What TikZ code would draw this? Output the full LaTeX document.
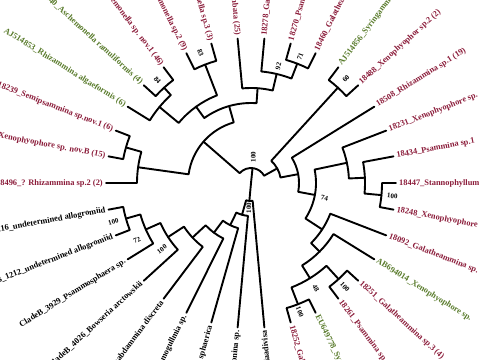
\documentclass[tikz,border=0pt]{standalone}
\usepackage{fontspec}
\setmainfont{Liberation Serif}
\usetikzlibrary{calc}
\definecolor{mar}{RGB}{139,28,58}
\definecolor{grn}{RGB}{88,122,42}
\newcommand\trBr[5]{\draw[br] ($(C)+(#2:#3pt)$) -- ($(C)+(#2:#1pt)$) arc[start angle=#2, end angle=#4, radius=#1pt] -- ($(C)+(#4:#5pt)$);}
\newcommand\trLR[4]{\node[lab, text=#3, anchor=west, rotate=#2] (#1) at ($(C)+(#2:147pt)$) {#4};}
\newcommand\trLL[4]{\node[lab, text=#3, anchor=east, rotate=#2+180] (#1) at ($(C)+(#2:147pt)$) {#4};}
\newcommand\trBS[5]{\node[bs, rotate=#4] (#1) at ($(C)+(#2:#3pt)$) {#5};}
\begin{document}
\begin{tikzpicture}[x=1pt,y=1pt,
  br/.style={line width=1.9pt, line join=round, line cap=round},
  lab/.style={font=\bfseries\fontsize{8.4}{9}\selectfont, inner sep=1pt},
  bs/.style={font=\bfseries\fontsize{7}{8}\selectfont, inner sep=0pt}]
\useasboundingbox (0,0) rectangle (479,-359);
\coordinate (C) at (251,-183);
% ---------- leaves ----------
\trLL{l0}{180}{mar}{18496\_? Rhizammina sp.2 (2)}
\trLL{l1}{169.41}{mar}{18233\_Xenophyophore sp. nov.B (15)}
\trLL{l2}{158.82}{mar}{18239\_Semipsammina sp.nov.1 (6)}
\trLL{l3}{148.24}{grn}{AJ514853\_Rhizammina algaeformis (6)}
\trLL{l4}{137.65}{grn}{AJ514840\_Aschemonella ramuliformis (4)}
\trLL{l5}{127.06}{mar}{18274\_Aschemonella sp. nov.1 (46)}
\trLL{l6}{116.47}{mar}{18266\_Aschemonella sp.2 (9)}
\trLL{l7}{105.88}{mar}{18263\_Aschemonella sp.3 (3)}
\trLL{l8}{95.29}{mar}{18241\_Psammina limbata (25)}
\trLR{l9}{84.71}{mar}{18278\_Galatheammina sp.}
\trLR{l10}{74.12}{mar}{18270\_Psammina sp.}
\trLR{l11}{63.53}{mar}{18460\_Galatheammina sp.}
\trLR{l12}{52.94}{grn}{AJ514856\_Syringammina fragilissima}
\trLR{l13}{42.35}{mar}{18488\_Xenophyophor sp.2 (2)}
\trLR{l14}{31.76}{mar}{18508\_Rhizammina sp.1 (19)}
\trLR{l15}{21.18}{mar}{18231\_Xenophyophore sp.}
\trLR{l16}{10.59}{mar}{18434\_Psammina sp.1}
\trLR{l17}{0}{mar}{18447\_Stannophyllum zonarium}
\trLR{l18}{-10.59}{mar}{18248\_Xenophyophore sp.}
\trLR{l19}{-21.18}{mar}{18092\_Galatheammina sp.}
\trLR{l20}{-31.76}{grn}{AB694014\_Xenophyophore sp.}
\trLR{l21}{-42.35}{mar}{18251\_Galatheammina sp.3 (4)}
\trLR{l22}{-52.94}{mar}{18261\_Psammina sp.}
\trLR{l23}{-63.53}{grn}{EU649778\_Syringammina corbicula}
\trLR{l24}{-74.12}{mar}{18252\_Galatheammina sp.}
\trLL{l25}{-84.71}{black}{Bathyallogromiaadivisa}
\trLL{l26}{-95.29}{black}{Crithionina sp.}
\trLL{l27}{-105.88}{black}{Saccammina sphaerica}
\trLL{l28}{-116.47}{black}{Nemogullmia sp.}
\trLL{l29}{-127.06}{black}{Rhabdammina discreta}
\trLL{l30}{-137.65}{black}{CladeB\_4026\_Bowseria arctowskii}
\trLL{l31}{-148.24}{black}{CladeB\_3929\_Psammosphaera sp.}
\trLL{l32}{-158.82}{black}{CladeB\_1212\_undetermined allogromiid}
\trLL{l33}{-169.41}{black}{CladeB\_1216\_undetermined allogromiid}
% ---------- upper-left clade ----------
\trBr{130}{169.41}{145}{158.82}{145}
\trBr{114}{180}{145}{164.12}{130}
\trBr{129}{137.65}{145}{127.06}{145}
\trBr{119}{148.24}{145}{132.35}{129}
\trBr{127}{116.47}{145}{105.88}{145}
\trBr{94}{140.29}{119}{111.18}{127}
\trBr{128}{74.12}{145}{63.53}{145}
\trBr{112}{84.71}{145}{68.82}{128}
\trBr{95}{95.29}{145}{76.77}{112}
\trBr{80}{125.74}{94}{86.03}{95}
\trBr{63}{172.06}{114}{105.88}{80}
% ---------- right clade ----------
\trBr{129}{52.94}{145}{42.35}{145}
\trBr{131}{0}{145}{-10.59}{145}
\trBr{114}{10.59}{145}{-5.30}{131}
\trBr{98}{21.18}{145}{2.65}{114}
\trBr{130}{-42.35}{145}{-52.94}{145}
\trBr{130}{-63.53}{145}{-74.12}{145}
\trBr{112}{-47.65}{130}{-68.82}{130}
\trBr{97}{-31.76}{145}{-58.24}{112}
\trBr{85}{-21.18}{145}{-45.0}{97}
\trBr{65}{11.91}{98}{-33.09}{85}
\trBr{48}{31.76}{145}{-10.59}{65}
\trBr{30}{47.65}{129}{10.59}{48}
\trBr{15}{138.97}{63}{29.12}{30}
% ---------- bottom clade ----------
\trBr{130}{-158.82}{145}{-169.41}{145}
\trBr{115}{-148.24}{145}{-164.12}{130}
\trBr{99}{-137.65}{145}{-156.18}{115}
\trBr{80}{-127.06}{145}{-146.92}{99}
\trBr{62}{-116.47}{145}{-136.99}{80}
\trBr{47}{-105.88}{145}{-126.73}{62}
\trBr{33}{-95.29}{145}{-116.31}{47}
\trBr{18}{-84.71}{145}{-105.8}{33}
\draw[br] ($(C)+(84.05:15pt)$) -- (C) -- ($(C)+(-95.25:18pt)$);
% ---------- support values ----------
\trBS{b84}{132.35}{139}{-47.65}{84}
\trBS{b83}{111.18}{140}{-68.82}{83}
\trBS{b92}{76.77}{120}{76.77}{92}
\trBS{b71}{68.82}{136}{68.82}{71}
\trBS{b60}{47.65}{141}{47.65}{60}
\trBS{b1718}{-5.3}{142}{-5.3}{100}
\trBS{b74}{-11.5}{75}{-11.5}{74}
\trBS{b48}{-58.5}{124}{-58.5}{48}
\trBS{b2122}{-47.9}{140}{-47.9}{100}
\trBS{b2324}{-69.2}{138}{-69.2}{100}
\trBS{b3332}{-164.2}{143}{15.8}{100}
\trBS{b72}{-153.4}{127.5}{26.6}{72}
\trBS{b30}{-143.4}{111}{36.6}{100}
\trBS{broot}{85}{26}{90}{100}
\trBS{bbot}{-95}{25}{90}{100}
\end{tikzpicture}
\end{document}
